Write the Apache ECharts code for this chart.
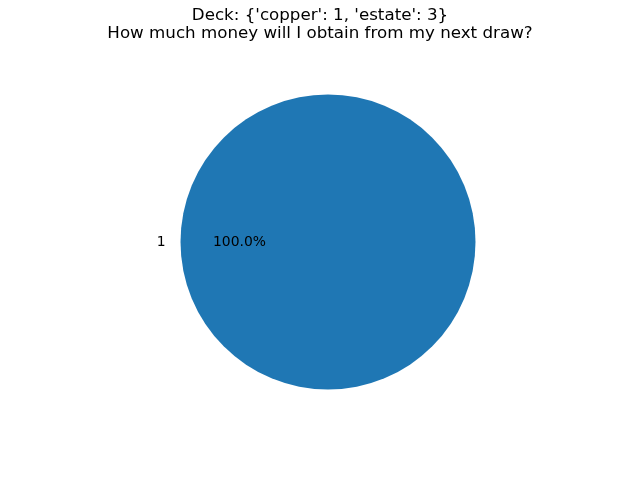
<!DOCTYPE html>
<html><head><meta charset="utf-8">
<script src="https://cdn.jsdelivr.net/npm/echarts@6/dist/echarts.min.js"></script>
<style>html,body{margin:0;padding:0;background:#fff}#c{width:640px;height:480px}</style>
</head><body><div id="c"></div>
<script>
const titleLines = ["Deck: {'copper': 1, 'estate': 3}", "How much money will I obtain from my next draw?"];
const categories = ["1"];
const values = [1];
const colors = ['#1f77b4'];

const R = 147.5;
const center = [328, 242];
const data = categories.map((c, i) => ({name: c, value: values[i], itemStyle: {color: colors[i]}}));
const font = 'DejaVu Sans';

const chart = echarts.init(document.getElementById('c'), null, {renderer: 'canvas'});
chart.setOption({
  animation: false,
  backgroundColor: '#fff',
  title: {
    text: titleLines.join('\n'), left: 'center', top: 2, padding: 5,
    textStyle: {fontFamily: font, fontSize: 16.7, fontWeight: 'normal', color: '#000', lineHeight: 18}
  },
  series: [
    {
      type: 'pie', center: center, radius: [0, R], startAngle: 0, clockwise: false,
      data: data, label: {show: false}, labelLine: {show: false}, silent: true,
      itemStyle: {borderWidth: 0}
    },
    {
      type: 'pie', center: center, radius: [0, R * 1.16], startAngle: 0, clockwise: false,
      data: data.map(d => ({name: d.name, value: d.value, itemStyle: {color: 'rgba(0,0,0,0)'}})),
      silent: true, labelLine: {show: false},
      label: {show: true, position: 'inside', formatter: p => p.percent.toFixed(1) + '%',
        fontFamily: font, fontSize: 13.9, color: '#000'}
    },
    {
      type: 'pie', center: center, radius: [0, R * 2.22], startAngle: 0, clockwise: false,
      data: data.map(d => ({name: d.name, value: d.value, itemStyle: {color: 'rgba(0,0,0,0)'}})),
      silent: true, labelLine: {show: false},
      label: {show: true, position: 'inside', formatter: p => p.name, align: 'right',
        fontFamily: font, fontSize: 13.9, color: '#000'}
    }
  ]
});
</script></body></html>
